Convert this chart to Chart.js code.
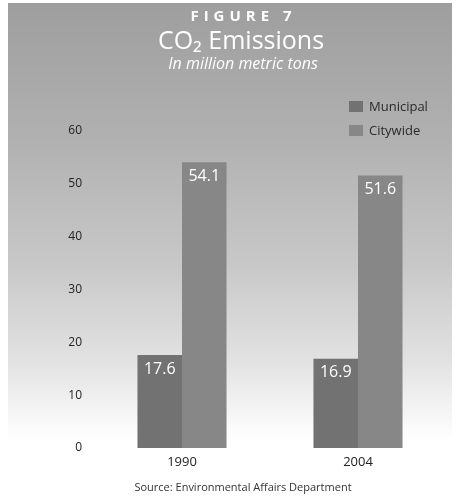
<!DOCTYPE html>
<html>
<head>
<meta charset="utf-8">
<script src="https://cdn.jsdelivr.net/npm/chart.js@4.4.1/dist/chart.umd.min.js"></script>
<style>
  html, body { margin: 0; padding: 0; background: #ffffff; }
  #wrap { position: relative; width: 462px; height: 497px; }
</style>
</head>
<body>
<div id="wrap"><canvas id="c" width="462" height="497"></canvas></div>
<script>
// Chart content
const figureLabel = 'FIGURE 7';
const titleText = 'CO\u2082 Emissions';
const subtitleText = 'In million metric tons';
const sourceText = 'Source: Environmental Affairs Department';

const years = ['1990', '2004'];
const seriesNames = ['Municipal', 'Citywide'];
const municipal = [17.6, 16.9];
const citywide = [54.1, 51.6];
const yTicks = [0, 10, 20, 30, 40, 50, 60];

const FONT = '"Open Sans", "DejaVu Sans", sans-serif';
const barColors = ['#727272', '#878787'];

// Grey header panel that fades to white towards the axis
const backdrop = {
  id: 'backdrop',
  beforeDraw(chart) {
    const ctx = chart.ctx;
    ctx.save();
    ctx.fillStyle = '#ffffff';
    ctx.fillRect(0, 0, chart.width, chart.height);
    const g = ctx.createLinearGradient(0, 3, 0, 440);
    g.addColorStop(0, '#9e9e9e');
    g.addColorStop(0.3, '#b0b0b0');
    g.addColorStop(0.6, '#c8c8c8');
    g.addColorStop(0.82, '#e2e2e2');
    g.addColorStop(1, '#ffffff');
    ctx.fillStyle = g;
    ctx.fillRect(8, 3, 444, 440);
    ctx.restore();
  }
};

// Headline block, legend, value labels and source line
const decorations = {
  id: 'decorations',
  afterDatasetsDraw(chart) {
    const ctx = chart.ctx;
    ctx.save();
    ctx.fillStyle = '#ffffff';
    ctx.textBaseline = 'middle';

    // letter-spaced figure number
    ctx.font = 'bold 15px ' + FONT;
    const letters = figureLabel.split('');
    const spacing = 5;
    let total = 0;
    letters.forEach(ch => total += ctx.measureText(ch).width + spacing);
    total -= spacing;
    let x = 241 - total / 2;
    ctx.textAlign = 'left';
    letters.forEach(ch => {
      ctx.fillText(ch, x, 17);
      x += ctx.measureText(ch).width + spacing;
    });

    ctx.textAlign = 'center';
    ctx.font = '25px ' + FONT;
    ctx.fillText(titleText, 241, 42);
    ctx.font = 'italic 16px ' + FONT;
    ctx.fillText(subtitleText, 243, 64);

    // legend
    chart.data.datasets.forEach((ds, i) => {
      const ly = 107 + i * 24;
      ctx.fillStyle = ds.backgroundColor;
      ctx.fillRect(349, ly - 6, 14, 11);
      ctx.fillStyle = '#2a2a2a';
      ctx.textAlign = 'left';
      ctx.font = '13px ' + FONT;
      ctx.fillText(ds.label, 369, ly);
    });

    // values inside the top of each bar
    ctx.textAlign = 'center';
    ctx.font = '16px ' + FONT;
    ctx.fillStyle = '#ffffff';
    chart.data.datasets.forEach((ds, i) => {
      chart.getDatasetMeta(i).data.forEach((bar, j) => {
        ctx.fillText(ds.data[j].toFixed(1), bar.x, bar.y + 14);
      });
    });

    // source line
    ctx.fillStyle = '#333333';
    ctx.font = '11px ' + FONT;
    ctx.fillText(sourceText, 243, 488);
    ctx.restore();
  }
};

new Chart(document.getElementById('c'), {
  type: 'bar',
  data: {
    labels: years,
    datasets: [
      { label: seriesNames[0], data: municipal, backgroundColor: barColors[0] },
      { label: seriesNames[1], data: citywide, backgroundColor: barColors[1] }
    ]
  },
  options: {
    responsive: false,
    animation: false,
    devicePixelRatio: 1,
    layout: { padding: { top: 131, right: 16, bottom: 22, left: 0 } },
    datasets: { bar: { categoryPercentage: 0.506, barPercentage: 1.0 } },
    plugins: {
      legend: { display: false },
      title: { display: false },
      tooltip: { enabled: false }
    },
    scales: {
      x: {
        grid: { display: false, drawTicks: false },
        border: { display: false },
        ticks: { color: '#222222', font: { family: FONT, size: 13 }, padding: 6 },
        afterFit(axis) { axis.height = 27; }
      },
      y: {
        min: yTicks[0],
        max: yTicks[yTicks.length - 1],
        afterBuildTicks(axis) { axis.ticks = yTicks.map(v => ({ value: v })); },
        grid: { display: false, drawTicks: false },
        border: { display: false },
        ticks: { color: '#222222', font: { family: FONT, size: 12 }, padding: 12 },
        afterFit(axis) { axis.width = 94; }
      }
    }
  },
  plugins: [backdrop, decorations]
});
</script>
</body>
</html>
